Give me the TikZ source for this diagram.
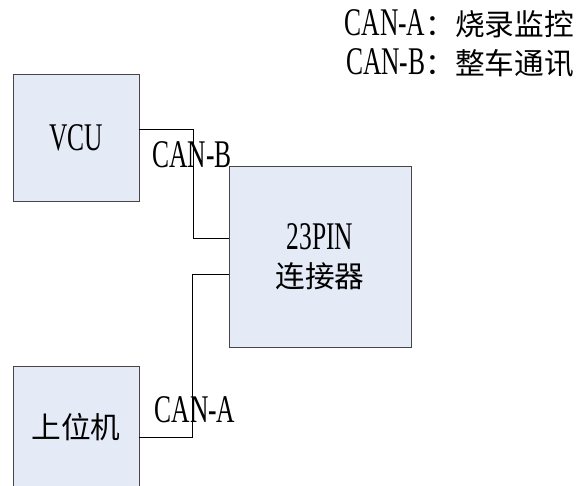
\documentclass[tikz,border=0pt]{standalone}
\usepackage{fontspec}
\setmainfont{Liberation Serif}[FakeStretch=0.65, Scale=1.4]
\newfontfamily\cj{Noto Sans CJK SC}[Scale=1.06]
\definecolor{boxfill}{RGB}{229,235,246}
\definecolor{boxline}{RGB}{70,70,70}
\begin{document}
\begin{tikzpicture}[x=1pt,y=-1pt,
  txt/.style={font=\fontsize{28}{36}\selectfont, inner sep=0pt},
  blk/.style={draw=boxline, fill=boxfill, line width=0.9pt, inner sep=0pt, align=center, font=\fontsize{28}{38}\selectfont},
  wire/.style={draw=black, line width=0.9pt}]
\useasboundingbox (0,0) rectangle (577,486);
\clip (0,0) rectangle (577,486);
\node[blk, minimum width=126pt, minimum height=127pt] (vcu) at (76,138.3) {VCU};
\node[blk, minimum width=182pt, minimum height=181pt] (conn) at (320,256.5) {23PIN\\{\cj 连接器}};
\node[blk, minimum width=126pt, minimum height=122pt] (host) at (76,427) {{\cj 上位机}};
\coordinate (b0) at ([yshift=9pt]vcu.east);
\coordinate (b1) at ([yshift=18.5pt]conn.west);
\coordinate (bx) at (193,0);
\draw[wire] (b0) -| (bx |- b1) -- (b1);
\coordinate (a0) at ([yshift=-10pt]host.east);
\coordinate (a1) at ([yshift=-17.5pt]conn.west);
\coordinate (ax) at (192,0);
\draw[wire] (a0) -| (ax |- a1) -- (a1);
\node[txt] (lb) at (192,155) {CAN-B};
\node[txt] (la) at (195,410) {CAN-A};
\node[txt, anchor=east] (lg1) at (574,24) {CAN-A{\cj ：烧录监控}};
\node[txt, anchor=east] (lg2) at (574,63) {CAN-B{\cj ：整车通讯}};
\end{tikzpicture}
\end{document}
